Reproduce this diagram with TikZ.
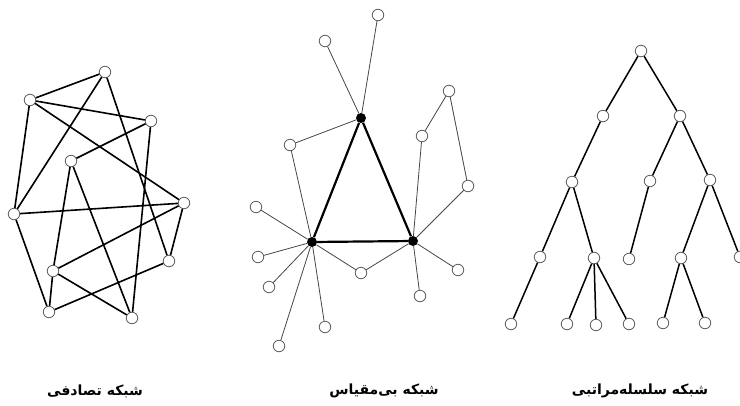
\documentclass[tikz,border=0pt]{standalone}
\usepackage{fontspec}
\newfontfamily\arabicfont[Script=Arabic]{DejaVu Sans}
\TeXXeTstate=1
\definecolor{ringgray}{RGB}{95,95,95}
\definecolor{spokegray}{RGB}{70,70,70}

\begin{document}
\begin{tikzpicture}[x=1pt, y=-1pt,
    vertex/.style={draw=ringgray, line width=0.8pt, fill=white, circle, inner sep=0pt, minimum size=11.5pt},
    hub/.style={fill=black, circle, inner sep=0pt, minimum size=10pt},
    randlink/.style={line width=1.6pt},
    spoke/.style={spokegray, line width=0.8pt},
    core/.style={line width=2.2pt},
    branch/.style={line width=1.5pt},
    caption/.style={font=\arabicfont\bfseries\fontsize{14}{16}\selectfont}]
    \useasboundingbox (0,0) rectangle (740,405);

    % random network
    \foreach \n/\x/\y in {r1/105/72, r2/30/100, r3/151/121, r4/71/161, r5/184/203,
                          r6/14/214, r7/169/261, r8/53/271, r9/49/312, r10/132/318} {
        \node[vertex] (\n) at (\x,\y) {};
    }
    \foreach \a/\b in {r2/r1, r2/r3, r2/r5, r2/r6, r1/r6, r1/r7, r3/r4, r3/r10, r4/r8,
                       r4/r10, r6/r5, r5/r8, r5/r7, r6/r9, r8/r9, r8/r10, r9/r7} {
        \draw[randlink] (\a) -- (\b);
    }

    % scale-free network
    \node[hub] (top) at (361,118) {};
    \node[hub] (left) at (312,242) {};
    \node[hub] (right) at (413,241) {};
    \foreach \n/\x/\y in {s1/378/15, s2/325/41, s3/290/145, s4/449/91, s5/422/136,
                          s6/256/207, s7/258/257, s8/269/287, s9/279/346, s10/325/327,
                          s11/361/273, s12/420/296, s13/458/270, s14/468/186} {
        \node[vertex] (\n) at (\x,\y) {};
    }
    \draw[core] (top) -- (left) -- (right) -- (top);
    \foreach \a/\b in {top/s1, top/s2, top/s3, s3/left, left/s6, left/s7, left/s8, left/s9,
                       left/s10, left/s11, s11/right, right/s12, right/s13, right/s14,
                       s5/right, s4/s5, s4/s14} {
        \draw[spoke] (\a) -- (\b);
    }

    % hierarchical network
    \foreach \n/\x/\y in {root/641/51, a1/603/116, a2/680/116, b1/572/182, b2/650/181,
                          b3/710/180, c1/540/257, c2/594/258, c3/629/259, c4/681/258,
                          c5/740/257, d1/511/324, d2/567/324, d3/596/325, d4/629/324,
                          d5/663/323, d6/705/323} {
        \node[vertex] (\n) at (\x,\y) {};
    }
    \foreach \a/\b in {root/a1, root/a2, a1/b1, a2/b2, a2/b3, b1/c1, b1/c2, b2/c3, b3/c4,
                       b3/c5, c1/d1, c2/d2, c2/d3, c2/d4, c4/d5, c4/d6} {
        \draw[branch] (\a) -- (\b);
    }

    % captions
    \node[caption] (cap-rand) at (95,391) {\beginR شبکه تصادفی\endR};
    \node[caption] (cap-free) at (384,391) {\beginR شبکه بی^^^^200cمقیاس\endR};
    \node[caption] (cap-tree) at (640,391) {\beginR شبکه سلسله^^^^200cمراتبی\endR};
\end{tikzpicture}
\end{document}
